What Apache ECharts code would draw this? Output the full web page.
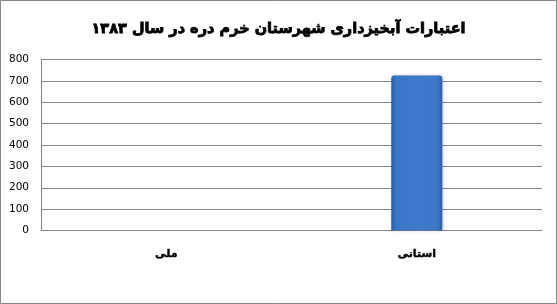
<!DOCTYPE html>
<html>
<head>
<meta charset="utf-8">
<script src="https://cdn.jsdelivr.net/npm/echarts@6/dist/echarts.min.js"></script>
<style>
  html, body { margin: 0; padding: 0; background: #fff; }
  #chart { width: 557px; height: 304px; }
</style>
</head>
<body>
<div id="chart"></div>
<script>
// Watershed-management credits, Khorramdareh county, 1383
const titleText = 'اعتبارات آبخیزداری شهرستان خرم دره در سال ۱۳۸۳';
const categories = ['ملی', 'استانی'];
const credits = [0, 725];
const yTicks = { min: 0, max: 800, interval: 100 };

const barStyle = {
  color: new echarts.graphic.LinearGradient(0, 0, 1, 0, [
    { offset: 0, color: '#2c5ea3' },
    { offset: 0.1, color: '#3a77c8' },
    { offset: 0.5, color: '#3e7bcc' },
    { offset: 0.9, color: '#3a77c8' },
    { offset: 1, color: '#2c5ea3' }
  ]),
  borderRadius: [3, 3, 0, 0],
  shadowColor: 'rgba(0, 0, 0, 0.25)',
  shadowBlur: 3,
  shadowOffsetX: 1
};

// zero-height bars get no shadow so nothing shows on the axis
const barData = credits.map(v => ({
  value: v,
  itemStyle: v === 0 ? { shadowBlur: 0, shadowOffsetX: 0, shadowColor: 'transparent' } : {}
}));

const chart = echarts.init(document.getElementById('chart'), null, { renderer: 'canvas' });

chart.setOption({
  backgroundColor: '#ffffff',
  animation: false,
  title: {
    text: titleText,
    left: 'center',
    top: 17,
    textStyle: {
      fontFamily: 'DejaVu Sans',
      fontWeight: 'bold',
      fontSize: 14.5,
      color: '#000',
      textBorderColor: '#000',
      textBorderWidth: 0.8
    }
  },
  graphic: [{
    type: 'rect',
    shape: { x: 0.5, y: 0.5, width: 556, height: 303 },
    style: { fill: 'none', stroke: '#868686', lineWidth: 1 },
    silent: true
  }],
  grid: { left: 41, right: 15, top: 59.5, bottom: 73.5 },
  xAxis: {
    type: 'category',
    data: categories,
    axisLine: { show: true, lineStyle: { color: '#868686', width: 1 } },
    axisTick: { show: false },
    axisLabel: {
      margin: 18,
      fontFamily: 'DejaVu Sans',
      fontWeight: 'bold',
      fontSize: 11,
      color: '#000',
      textBorderColor: '#000',
      textBorderWidth: 0.4
    },
    splitLine: { show: false }
  },
  yAxis: {
    type: 'value',
    min: yTicks.min,
    max: yTicks.max,
    interval: yTicks.interval,
    axisLine: { show: true, lineStyle: { color: '#868686', width: 1 } },
    axisTick: { show: false },
    axisLabel: {
      margin: 12,
      fontFamily: 'DejaVu Sans',
      fontSize: 10.5,
      color: '#000'
    },
    splitLine: { show: true, lineStyle: { color: '#868686', width: 1 } }
  },
  series: [{
    type: 'bar',
    data: barData,
    barWidth: 51,
    itemStyle: barStyle
  }]
});
</script>
</body>
</html>
